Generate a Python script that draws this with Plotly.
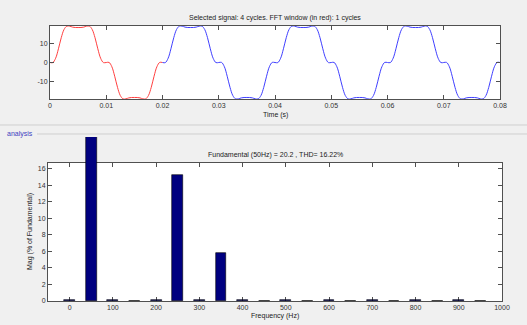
import plotly.graph_objects as go

# ---- data ----
# one cycle (20 ms) of the signal, sampled every 0.5 ms
cycle_values = [0.0, -0.05, 2.23, 7.18, 12.99, 17.28, 19.05, 19.01, 18.52, 18.31,
                18.30, 18.31, 18.52, 19.01, 19.05, 17.28, 12.99, 7.18, 2.23, -0.05,
                0.0, 0.05, -2.23, -7.18, -12.99, -17.28, -19.05, -19.01, -18.52, -18.31,
                -18.30, -18.31, -18.52, -19.01, -19.05, -17.28, -12.99, -7.18, -2.23, 0.05]
n_cycles = 4
dt = 0.0005
signal = cycle_values * n_cycles + [0.0]
time = [i * dt for i in range(len(signal))]
window_end = len(cycle_values)  # FFT window: first cycle

freqs = [0, 50, 100, 150, 200, 250, 300, 350, 400, 450, 500,
         550, 600, 650, 700, 750, 800, 850, 900, 950]
mags = [0.1, 100.0, 0.1, 0.06, 0.1, 15.2, 0.1, 5.8, 0.1, 0.06, 0.1,
        0.06, 0.1, 0.06, 0.1, 0.06, 0.1, 0.06, 0.1, 0.06]

top_title = "Selected signal: 4 cycles. FFT window (in red): 1 cycles"
bottom_title = "Fundamental (50Hz) = 20.2 , THD= 16.22%"

# ---- figure ----
W, H = 527, 325
def px(x):
    return x / W
def py(y):
    return 1 - y / H

FONT = "Liberation Sans, Arial, sans-serif"
fig = go.Figure()

fig.add_trace(go.Scatter(x=time[:window_end + 1], y=signal[:window_end + 1],
                         mode="lines", line=dict(color="#ff4040", width=1, shape="spline"),
                         xaxis="x", yaxis="y", showlegend=False))
fig.add_trace(go.Scatter(x=time[window_end:], y=signal[window_end:],
                         mode="lines", line=dict(color="#4040ff", width=1, shape="spline"),
                         xaxis="x", yaxis="y", showlegend=False))

# bars drawn on a hidden axis pair with the same scale as the visible spectrum axes,
# whose plot area reaches up to the panel border (where the tall bar is cut off)
AX_BOTTOM, AX_TOP, PANEL_TOP = 301, 163, 137
Y2_MAX = 16.7
Y3_MAX = Y2_MAX * (AX_BOTTOM - PANEL_TOP) / (AX_BOTTOM - AX_TOP)

fig.add_trace(go.Bar(x=freqs, y=mags, width=25,
                     marker=dict(color="#000080", line=dict(color="#000000", width=0.6)),
                     xaxis="x3", yaxis="y3", showlegend=False))
# empty trace so that the visible spectrum axes are drawn
fig.add_trace(go.Scatter(x=[None], y=[None], xaxis="x2", yaxis="y2",
                         showlegend=False, hoverinfo="skip"))

axis_common = dict(showline=True, linecolor="#505050", linewidth=1, mirror="ticks",
                   ticks="inside", ticklen=4, tickcolor="#505050", showgrid=False,
                   zeroline=False, tickfont=dict(size=7, color="#333333", family=FONT))

fig.update_layout(
    width=W, height=H,
    margin=dict(l=0, r=0, t=0, b=0, autoexpand=False),
    paper_bgcolor="#f0f0f0",
    plot_bgcolor="rgba(0,0,0,0)",
    font=dict(family=FONT, size=7, color="#333333"),
    bargap=0,
    xaxis=dict(domain=[px(50), px(500)], range=[0, 0.08], anchor="y",
               tickvals=[0, 0.01, 0.02, 0.03, 0.04, 0.05, 0.06, 0.07, 0.08],
               ticktext=["0", "0.01", "0.02", "0.03", "0.04", "0.05", "0.06", "0.07", "0.08"],
               **axis_common),
    yaxis=dict(domain=[py(99), py(26)], range=[-19.1, 19.1], anchor="x",
               tickvals=[-10, 0, 10], ticktext=["-10", "0", "10"], **axis_common),
    xaxis2=dict(domain=[px(48), px(502)], range=[-50, 1000], anchor="y2",
                tickvals=list(range(0, 1001, 100)), **axis_common),
    yaxis2=dict(domain=[py(AX_BOTTOM), py(AX_TOP)], range=[0, Y2_MAX], anchor="x2",
                tickvals=list(range(0, 17, 2)), **axis_common),
    xaxis3=dict(domain=[px(48), px(502)], range=[-50, 1000], anchor="y3", visible=False),
    yaxis3=dict(domain=[py(AX_BOTTOM), py(PANEL_TOP)], range=[0, Y3_MAX], anchor="x3",
                visible=False),
)

# white plot areas
for xr, yr in (("x domain", "y domain"), ("x2 domain", "y2 domain")):
    fig.add_shape(type="rect", xref=xr, yref=yr, x0=0, x1=1, y0=0, y1=1,
                  fillcolor="#ffffff", line=dict(width=0), layer="below")

annots = [
    dict(text=top_title, x=px(275), y=py(18)),
    dict(text="Time (s)", x=px(275), y=py(115)),
    dict(text=bottom_title, x=px(275), y=py(155)),
    dict(text="Frequency (Hz)", x=px(275), y=py(316)),
    dict(text="Mag (% of Fundamental)", x=px(30), y=py(232), textangle=-90),
]
for a in annots:
    fig.add_annotation(xref="paper", yref="paper", showarrow=False,
                       xanchor="center", yanchor="middle",
                       font=dict(size=7, color="#222222", family=FONT), **a)

fig.add_annotation(xref="paper", yref="paper", showarrow=False, text="analysis",
                   x=px(35), y=py(134), xanchor="right", yanchor="middle",
                   font=dict(size=7, color="#4040c0", family=FONT))

fig.add_shape(type="line", xref="paper", yref="paper", x0=0, x1=1, y0=py(125), y1=py(125),
              line=dict(color="#cfcfcf", width=1))
fig.add_shape(type="line", xref="paper", yref="paper", x0=px(37), x1=1, y0=py(134), y1=py(134),
              line=dict(color="#cfcfcf", width=1))

fig.write_html("out.html", config={"displayModeBar": False},
               post_script="document.body.style.margin='0';document.body.style.overflow='hidden';")
